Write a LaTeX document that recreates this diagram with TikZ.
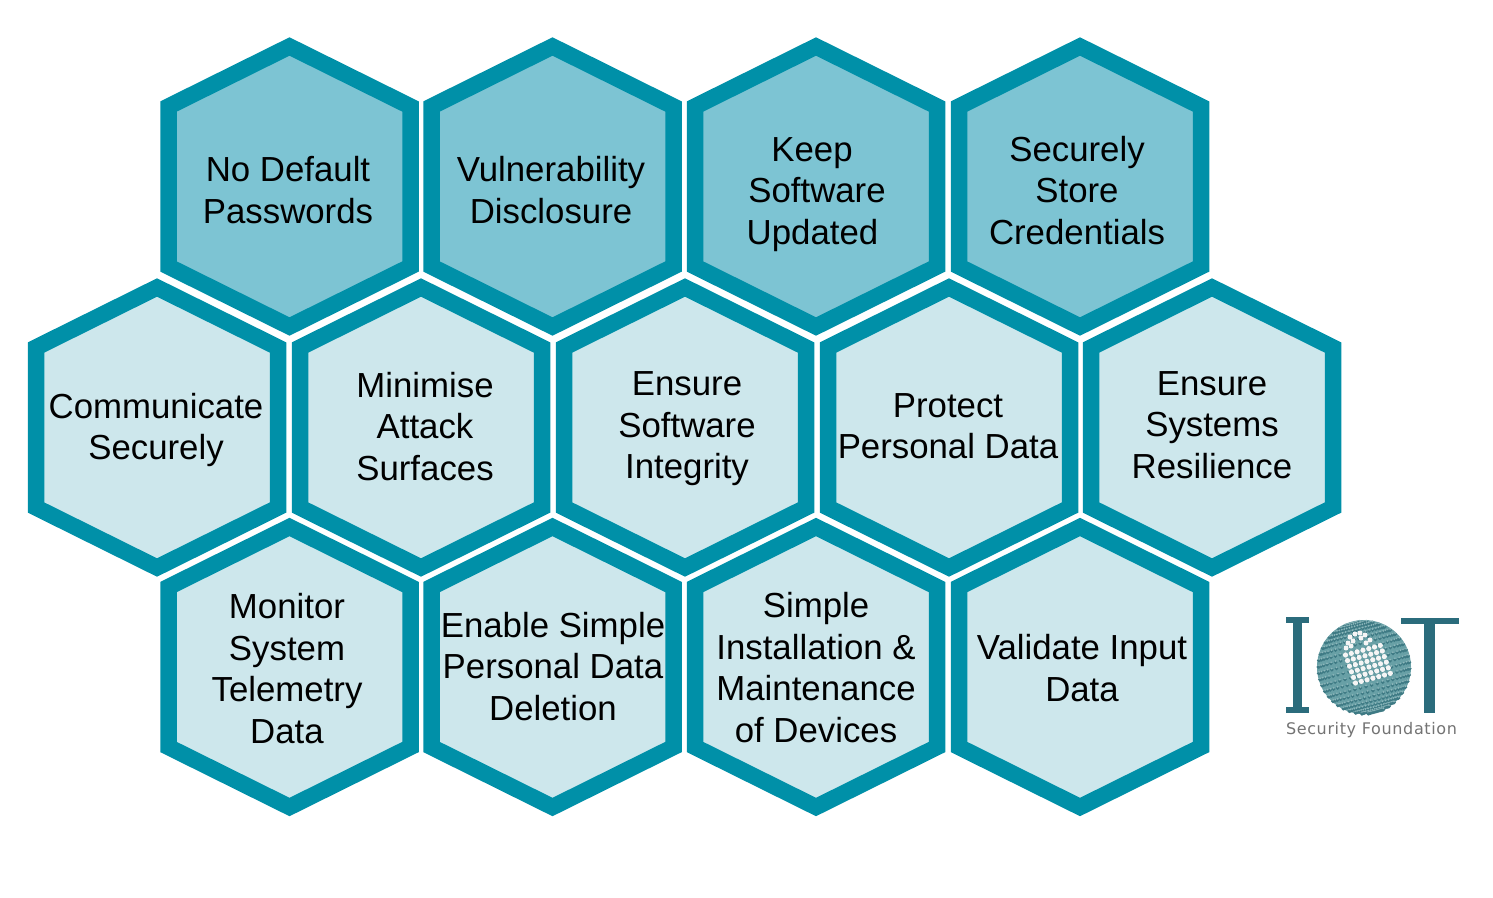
\documentclass[tikz,border=0pt]{standalone}
\usepackage{fontspec}
\setmainfont{Liberation Sans}
\newfontfamily\logofont[LetterSpace=4]{DejaVu Sans}
\usepackage{tikz}
\definecolor{hexline}{HTML}{0090A8}
\definecolor{hexdark}{HTML}{7DC4D3}
\definecolor{hexlight}{HTML}{CDE7EC}
\definecolor{logoteal}{HTML}{2B6C7C}
\definecolor{logoball}{HTML}{68A0A6}
\definecolor{logopeg}{HTML}{3E7A84}
\tikzset{
  pics/hexcell/.style={code={
    \draw[draw=hexline, fill=#1, line width=16.5pt, line join=miter]
      (0,-140) -- (121,-80) -- (121,80) -- (0,140) -- (-121,80) -- (-121,-80) -- cycle;
  }},
  hexlabel/.style={align=center, inner sep=0pt, text=black, font=\fontsize{34.8}{41.5}\selectfont},
  logobar/.style={fill=logoteal, draw=none},
}
\begin{document}
\begin{tikzpicture}[x=1pt, y=-1pt]
  \useasboundingbox (0,0) rectangle (1493,897);
  % top row
  \foreach \name/\px in {pass/289.5,vuln/552.5,keep/816,cred/1080}
    \pic (\name) at (\px,186.5) {hexcell=hexdark};
  % middle row
  \foreach \name/\px in {comm/157,mini/421,inte/685,data/949,resi/1212}
    \pic (\name) at (\px,427.5) {hexcell=hexlight};
  % bottom row
  \foreach \name/\px in {tele/289.5,dele/552.5,inst/816,vali/1080}
    \pic (\name) at (\px,667) {hexcell=hexlight};
  % labels
  \node[hexlabel] (passtxt) at (288,190) {No Default\\Passwords};
  \node[hexlabel] (vulntxt) at (551,190) {Vulnerability\\Disclosure};
  \node[hexlabel] (keeptxt) at (817,194.5) {Keep\hspace*{10pt}\\Software\\Updated\hspace*{9pt}};
  \node[hexlabel] (credtxt) at (1077,190.5) {Securely\\Store\\Credentials};
  \node[hexlabel] (commtxt) at (156,430) {Communicate\\Securely};
  \node[hexlabel] (minitxt) at (425,426.5) {Minimise\\Attack\\Surfaces};
  \node[hexlabel] (intetxt) at (687,429) {Ensure\\Software\\Integrity};
  \node[hexlabel] (datatxt) at (948,426) {Protect\\Personal Data};
  \node[hexlabel] (resitxt) at (1212,425) {Ensure\\Systems\\Resilience};
  \node[hexlabel] (teletxt) at (287,668.5) {Monitor\\System\\Telemetry\\Data};
  \node[hexlabel] (deletxt) at (553,666.5) {Enable Simple\\Personal Data\\Deletion};
  \node[hexlabel] (insttxt) at (816,667.5) {Simple\\Installation \&\\Maintenance\\of Devices};
  \node[hexlabel] (valitxt) at (1082,668) {Validate Input\\Data};
  % logo letters
  \fill[logobar] (1286,617) rectangle (1309,623);
  \fill[logobar] (1293,617) rectangle (1302,713);
  \fill[logobar] (1286,707) rectangle (1309,713);
  \fill[logobar] (1401,618) rectangle (1459,624);
  \fill[logobar] (1424,618) rectangle (1435,713);
  % logo ball
  \fill[logoball] (1364,667) circle (47);
  \foreach \lat in {-80,-72,...,80}
    \foreach \lon in {-84,-76,...,84} {
      \pgfmathsetmacro{\ux}{cos(\lat)*sin(\lon)}
      \pgfmathsetmacro{\uy}{sin(\lat)}
      \fill[logopeg] ({1364+46*(\ux*cos(15)+\uy*sin(15))},{667+46*(\uy*cos(15)-\ux*sin(15))+0.8}) circle (1.9);
      \fill[logoball!75!white] ({1364+46*(\ux*cos(15)+\uy*sin(15))},{667+46*(\uy*cos(15)-\ux*sin(15))-0.4}) circle (1);
    }
  % lock body and shackle
  \foreach \i in {0,...,6}
    \foreach \j in {0,...,5}
      \fill[white!92!gray] ({1345.5+\i*5.8+\j*2},{655-\i*1.6+\j*5.6}) circle (2.6);
  \foreach \px/\py in {1350/637,1355/634,1360/633,1365/635,1370/640,1348/643,1353/641,1361/638,1366/643,1346/648,1351/646}
    \fill[white!92!gray] (\px,\py) circle (2.5);
  \node[inner sep=0pt, text=black!55, font=\logofont\fontsize{16}{20}\selectfont] (logotxt) at (1371.5,730) {Security Foundation};
\end{tikzpicture}
\end{document}
